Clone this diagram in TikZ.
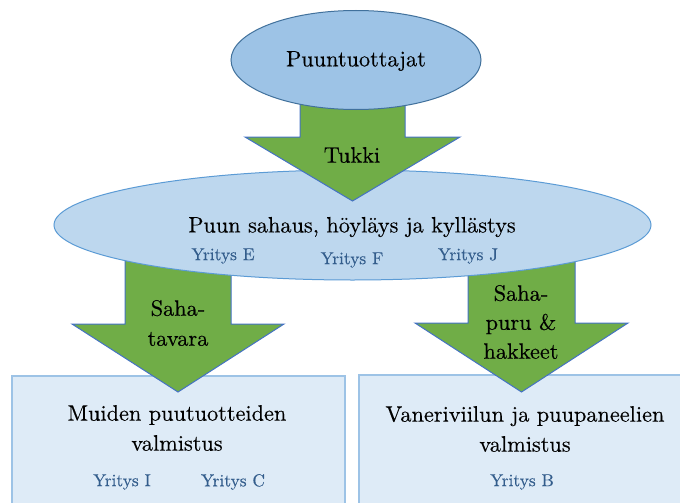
\documentclass[tikz,border=0pt]{standalone}
\usepackage{fontspec}
\newfontfamily\labelfont{lmroman10-regular.otf}[FakeBold=0.25]
\usetikzlibrary{shapes.geometric}

\definecolor{topfill}{HTML}{9DC3E6}
\definecolor{topline}{HTML}{41719C}
\definecolor{midfill}{HTML}{BDD7EE}
\definecolor{midline}{HTML}{5B9BD5}
\definecolor{boxfill}{HTML}{DEEBF7}
\definecolor{boxline}{HTML}{9DC3E6}
\definecolor{arrowfill}{HTML}{70AD47}
\definecolor{arrowline}{HTML}{4472C4}
\definecolor{firmtext}{HTML}{335D8C}

\tikzset{
  maintext/.style={font=\labelfont\fontsize{22.3}{30}\selectfont, text=black, align=center, inner sep=0pt},
  firm/.style={font=\labelfont\fontsize{17.4}{22}\selectfont, text=firmtext, inner sep=0pt},
  stagebox/.style={draw=boxline, fill=boxfill, line width=1.2pt, rectangle, inner sep=0pt},
  flowarrow/.style={draw=arrowline, fill=arrowfill, line width=1pt, line join=miter},
}

% block arrow pointing down: centre x, top y, head base y, tip y, shaft half width, head half width
\newcommand{\downblock}[6]{%
  \path[flowarrow] (#1-#5,#2) -- (#1+#5,#2) -- (#1+#5,#3) -- (#1+#6,#3)
    -- (#1,#4) -- (#1-#6,#3) -- (#1-#5,#3) -- cycle;}

\begin{document}
\begin{tikzpicture}[x=1pt, y=-1pt]
\clip (0,0) rectangle (680,503);
\fill[white] (0,0) rectangle (680,503);

% lower stages
\node[stagebox, minimum width=333pt, minimum height=140pt] (left) at (178.5,446) {};
\node[stagebox, minimum width=330pt, minimum height=140pt] (right) at (524,445) {};

% flows out of the sawmill stage
\downblock{178}{250}{324}{392}{53}{106}
\downblock{521.5}{250}{323}{392}{53.5}{106.5}

% sawmill stage
\node[ellipse, draw=midline, fill=midfill, line width=1pt, inner sep=0pt,
      minimum width=597pt, minimum height=110pt] (saw) at (352.5,225) {};

% log flow into the sawmill
\downblock{352.5}{95}{137}{201}{52.5}{107.5}

% producers
\node[ellipse, draw=topline, fill=topfill, line width=1pt, inner sep=0pt,
      minimum width=250pt, minimum height=99pt] (prod) at (356,60) {};

% labels
\node[maintext] (prodlbl) at (356,61) {Puuntuottajat};
\node[maintext] (tukki) at (352,155) {Tukki};
\node[maintext] (sawlbl) at (352,227) {Puun sahaus, höyläys ja kyllästys};
\node[firm] (fe) at (223,256) {Yritys E};
\node[firm] (ff) at (352,260) {Yritys F};
\node[firm] (fj) at (468,256) {Yritys J};

\node[maintext] (lumber) at (178,323) {Saha-\\tavara};
\node[maintext, font=\labelfont\fontsize{22.3}{29}\selectfont] (chips) at (521,322) {Saha-\\puru \&\\hakkeet};

\node[maintext] (leftlbl) at (177,428) {Muiden puutuotteiden\\valmistus};
\node[firm] (fi) at (122,482) {Yritys I};
\node[firm] (fc) at (233,482) {Yritys C};

\node[maintext] (rightlbl) at (525,429) {Vaneriviilun ja puupaneelien\\valmistus};
\node[firm] (fb) at (522,482) {Yritys B};
\end{tikzpicture}
\end{document}
